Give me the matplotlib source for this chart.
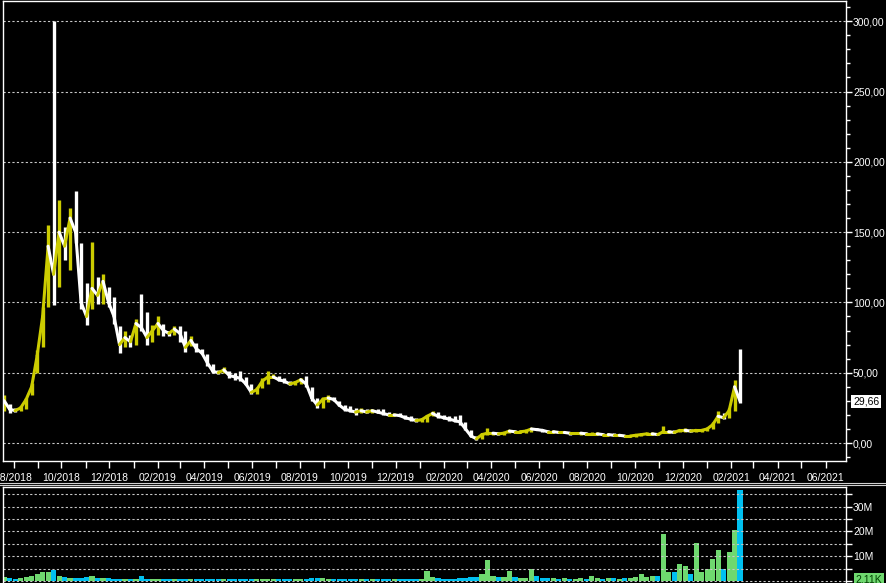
import matplotlib
matplotlib.use('Agg')
import matplotlib.pyplot as plt
import matplotlib.dates as mdates
from matplotlib.lines import Line2D
from matplotlib.collections import LineCollection
from matplotlib.ticker import MultipleLocator, FuncFormatter
import matplotlib.transforms as mtransforms
import numpy as np
import pandas as pd

# weekly bars (price in BRL-style units, volume in millions)
dates = pd.date_range('2018-07-20', periods=135, freq='7D')

highs = [34, 28, 25, 26, 32, 43, 66, 97, 155, 300,
         173, 154, 167, 179, 142, 114, 143, 118, 120, 111,
         104, 83, 80, 77, 88, 106, 93, 84, 90, 85,
         80, 83, 83, 80, 76, 71, 67, 63, 56, 52,
         54, 51, 50, 51, 47, 42, 40, 46, 51, 49,
         48, 46, 44, 44, 46, 48, 40, 32, 33, 34,
         33, 30, 27, 26, 25, 25, 24, 24, 24, 24,
         22, 21, 21, 20, 19, 18, 18, 20, 23, 22,
         20, 19, 19, 20, 15, 9, 5, 7, 11, 8,
         8, 8, 9.5, 9.5, 9, 9, 11, 11, 10, 9,
         9, 8.5, 8.5, 8, 8, 8, 8, 7.5, 7.5, 7,
         7, 7, 6.5, 6, 6, 6, 6.5, 7.5, 7.5, 7,
         12, 9.5, 9, 10, 10.7, 10, 10, 10, 11, 15,
         22.6, 21, 25, 45, 67]

lows = [23, 21, 22, 23, 24, 34, 50, 68, 97, 98,
        111, 130, 123, 142, 95, 84, 95, 99, 99, 97,
        85, 64, 68, 68, 70, 80, 70, 72, 77, 76,
        76, 77, 72, 65, 69, 65, 63, 55, 50, 49,
        50, 46, 45, 44, 41, 35, 35, 39, 42, 46,
        44, 43, 41, 41, 42, 40, 30, 25, 25, 29,
        30, 26, 23, 22, 20, 21, 21, 21, 21, 20,
        19, 19, 19, 17, 16, 15, 15, 15, 19, 18,
        17, 16, 15, 13, 9, 4, 2, 3, 6, 6,
        6, 6, 7, 7, 7, 7, 8, 9, 8, 7,
        7, 7, 7, 6, 6.5, 6, 6, 6, 6, 5.5,
        5.5, 5, 5, 4.5, 4.5, 4.5, 5, 5.5, 6, 5.5,
        7, 7, 7, 7.5, 8, 7.5, 8, 8, 8.5, 10,
        14, 17, 18, 23, 28.5]

closes = [30, 24, 23, 25, 31, 40, 62, 90, 140, 120,
          150, 140, 160, 150, 100, 90, 110, 105, 115, 100,
          90, 70, 75, 72, 85, 82, 75, 80, 85, 80,
          78, 81, 78, 68, 73, 67, 64, 57, 51, 50,
          52, 48, 47, 46, 42, 36, 38, 44, 47, 47,
          45, 44, 42, 43, 45, 42, 32, 27, 31, 32,
          31, 27, 24, 23, 22, 23, 22, 23, 22, 21,
          20, 20, 19.5, 18, 17, 16, 16.5, 19, 21, 19,
          18, 17, 16, 15, 10, 5, 3, 6, 7, 7,
          6.5, 7, 8.5, 8, 8, 8.5, 10, 9.5, 9, 8,
          8, 7.5, 7.5, 7, 7, 7, 6.5, 6.5, 6.5, 6,
          6, 5.5, 5.5, 5, 5, 5.5, 6, 6.5, 6.5, 6,
          8, 8, 7.5, 9, 9, 8.5, 9, 9, 10, 13,
          19, 18, 23, 40, 29.66]

volumes = [1.8, 1.2, 1.0, 1.2, 1.8, 2.2, 3.0, 3.5, 3.5, 4.5,
           2.0, 1.5, 1.3, 1.3, 1.2, 1.5, 2.0, 1.2, 1.2, 1.1,
           1.0, 1.0, 1.0, 0.9, 1.0, 2.0, 1.0, 0.9, 0.9, 0.8,
           0.8, 0.8, 0.9, 0.8, 0.8, 0.8, 0.8, 0.8, 0.8, 0.8,
           0.8, 0.8, 0.8, 0.8, 0.9, 1.0, 0.9, 0.8, 1.0, 0.8,
           0.8, 0.8, 0.8, 0.8, 0.9, 1.0, 1.2, 1.2, 1.2, 1.0,
           1.0, 0.9, 0.8, 0.8, 0.8, 0.8, 0.8, 0.8, 0.8, 0.8,
           0.8, 0.8, 0.8, 0.9, 1.0, 1.0, 1.0, 4.0, 1.5, 1.2,
           1.0, 1.0, 1.0, 1.2, 1.3, 1.5, 1.5, 3.0, 8.5, 2.0,
           1.5, 1.5, 4.0, 1.5, 1.2, 1.2, 5.0, 2.0, 1.3, 1.2,
           1.2, 1.0, 1.2, 1.0, 1.0, 1.2, 1.0, 2.0, 1.2, 1.0,
           1.2, 1.2, 1.0, 1.2, 1.3, 1.5, 3.0, 1.5, 2.0, 2.0,
           19.0, 3.5, 3.5, 7.0, 6.0, 3.0, 15.5, 3.5, 5.0, 9.0,
           12.5, 5.0, 11.5, 20.5, 36.5]

last_price = '29,66'
last_volume = '2.11K'
month_labels = '%m/%Y'

up_col = '#cccc00'
down_col = '#ffffff'
vol_up = '#6fd86f'
vol_down = '#00c0f0'

plt.rcParams['font.family'] = ['Liberation Sans', 'DejaVu Sans']

fig = plt.figure(figsize=(8.87, 5.83), dpi=100, facecolor='black')
ax = fig.add_axes([3 / 887, 122 / 583, 843 / 887, 460 / 583], facecolor='black')
axv = fig.add_axes([3 / 887, 0, 843 / 887, 96 / 583], facecolor='black')

x = mdates.date2num(dates)
prev = [closes[0]] + closes[:-1]
cols = [up_col if c >= p else down_col for c, p in zip(closes, prev)]
vcols = [vol_up if c >= p else vol_down for c, p in zip(closes, prev)]

# thin high-low bars plus a joining stroke so the band reads continuous
ax.vlines(x, lows, highs, colors=cols, linewidth=2.4)
segs = [[(x[i - 1], closes[i - 1]), (x[i], closes[i])] for i in range(1, len(x))]
ax.add_collection(LineCollection(segs, colors=cols[1:], linewidths=2.2, capstyle='round'))

axv.bar(x, volumes, width=6.6, color=vcols, linewidth=0)

xmin = mdates.date2num(pd.Timestamp('2018-07-18 12:00'))
xmax = mdates.date2num(pd.Timestamp('2021-06-27'))
for a in (ax, axv):
    a.set_xlim(xmin, xmax)
    for s in a.spines.values():
        s.set_color('white')
        s.set_linewidth(1.0)
ax.set_ylim(-12.8, 314.4)
axv.set_ylim(-0.8, 37.9)
axv.spines['bottom'].set_visible(False)

# price axis
ax.xaxis.set_major_locator(mdates.MonthLocator(bymonth=[2, 4, 6, 8, 10, 12]))
ax.xaxis.set_minor_locator(mdates.MonthLocator())
ax.xaxis.set_major_formatter(mdates.DateFormatter(month_labels))
ax.yaxis.tick_right()
ax.yaxis.set_major_locator(MultipleLocator(50))
ax.yaxis.set_minor_locator(MultipleLocator(10))
ax.yaxis.set_major_formatter(FuncFormatter(lambda v, p: f'{v:.2f}'.replace('.', ',')))
ax.tick_params(axis='x', which='both', colors='white', length=5, width=1, labelsize=7.5, pad=3.5)
ax.tick_params(axis='y', which='major', colors='white', length=4, width=1, labelsize=7.5, pad=1)
ax.tick_params(axis='y', which='minor', colors='white', length=3, width=1)
ax.grid(axis='y', which='major', color='#c8c8c8', linestyle=(0, (2, 2)), linewidth=0.8)

# volume axis
axv.set_xticks([])
axv.yaxis.tick_right()
axv.yaxis.set_major_locator(MultipleLocator(5))
axv.yaxis.set_major_formatter(FuncFormatter(
    lambda v, p: f'{int(round(v))}M' if v > 0 and round(v) % 10 == 0 else ''))
axv.tick_params(axis='y', colors='white', length=4, width=1, labelsize=7.5, pad=1)
axv.grid(axis='y', color='#c8c8c8', linestyle=(0, (2, 2)), linewidth=0.8)

# last value labels
tr = mtransforms.blended_transform_factory(ax.transAxes, ax.transData)
ax.text(1.0085, closes[-1], last_price, transform=tr, color='black', fontsize=7.5,
        va='center', ha='left', clip_on=False,
        bbox=dict(facecolor='white', edgecolor='none', pad=1.2))
trv = mtransforms.blended_transform_factory(axv.transAxes, axv.transData)
axv.text(1.0115, 0.4, last_volume, transform=trv, color='#004000', fontsize=7.5,
         va='center', ha='left', clip_on=False,
         bbox=dict(facecolor=vol_up, edgecolor='none', pad=1.5))

# separator between the panels
for yy in (482.7, 484.7):
    fig.add_artist(Line2D([0, 1], [1 - yy / 583, 1 - yy / 583], transform=fig.transFigure,
                          color='#d0d0d0', linewidth=0.8))

fig.savefig('out.png', dpi=100, facecolor='black')
